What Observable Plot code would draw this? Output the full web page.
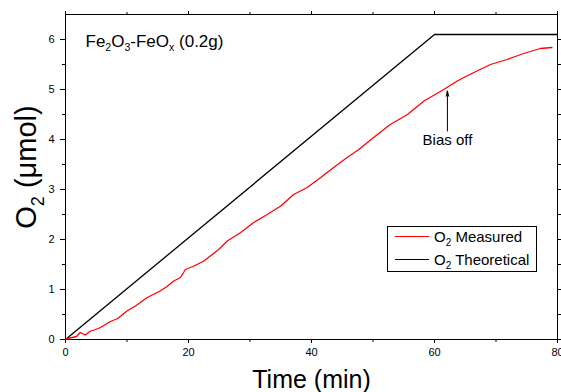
<!DOCTYPE html>
<html>
<head>
<meta charset="utf-8">
<script src="https://cdn.jsdelivr.net/npm/d3@7"></script>
<script src="https://cdn.jsdelivr.net/npm/@observablehq/plot@0.6"></script>
<style>
  body { margin: 0; background: #fff; }
  #wrap { position: relative; width: 561px; height: 392px; font-family: "Liberation Sans", Arial, sans-serif; }
  #legend { position: absolute; left: 387px; top: 226px; width: 148px; height: 44px; border: 1px solid #000; background: #fff; font-size: 15px; color: #000; }
  #legend .sw { position: absolute; left: 7px; width: 34px; height: 0; }
  #legend .lb { position: absolute; left: 46px; white-space: nowrap; line-height: 17px; }
  #legend .sub { font-size: 10px; position: relative; top: 4px; }
</style>
</head>
<body>
<div id="wrap"></div>
<script>
// ---- data ----
const measuredTime = [0, 0.3, 1.1, 1.8, 2.4, 3.2, 4.1, 4.9, 5.7, 6.5, 7.3, 8.5, 10.0, 11.5, 13.3, 15.4, 16.5, 17.6, 18.7, 19.5, 20.9, 22.5, 24.9, 26.3, 28.5, 30.6, 32.8, 35.0, 37.1, 39.3, 41.5, 43.6, 45.8, 47.7, 50.1, 52.8, 55.6, 58.3, 61.5, 63.7, 66.4, 69.1, 71.8, 74.5, 77.2, 79.1];
const measuredO2   = [0, 0.02, 0.04, 0.06, 0.14, 0.09, 0.17, 0.20, 0.24, 0.30, 0.36, 0.42, 0.57, 0.68, 0.84, 0.97, 1.06, 1.17, 1.24, 1.40, 1.47, 1.57, 1.80, 1.97, 2.14, 2.34, 2.50, 2.67, 2.90, 3.04, 3.24, 3.44, 3.64, 3.80, 4.04, 4.30, 4.50, 4.77, 5.00, 5.17, 5.34, 5.50, 5.60, 5.72, 5.82, 5.84];
const theoreticalTime = [0, 60, 80];
const theoreticalO2   = [0, 6.1, 6.1];

const xMajorTicks = [0, 20, 40, 60, 80];
const xMinorTicks = [10, 30, 50, 70];
const yMajorTicks = [0, 1, 2, 3, 4, 5, 6];
const yMinorTicks = [0.5, 1.5, 2.5, 3.5, 4.5, 5.5];

const titleText = "Fe_{2}O_{3}-FeO_{x} (0.2g)";
const xLabel = "Time (min)";
const yLabel = "O_{2} (μmol)";

const annotationText = ["Bias off"];
const annotationX = [62.1];
const annotationTextY = [3.9];
const annotationArrowFrom = [4.17];
const annotationArrowTo = [4.97];

const legendLabels = ["Measured", "Theoretical"];
const legendColors = ["#ff0000", "#000000"];

// ---- tables ----
const measured = measuredTime.map((t, i) => ({t, v: measuredO2[i]}));
const theoretical = theoreticalTime.map((t, i) => ({t, v: theoreticalO2[i]}));
const notes = annotationText.map((s, i) => ({s, x: annotationX[i], y: annotationTextY[i], y1: annotationArrowFrom[i], y2: annotationArrowTo[i]}));

const font = "'Liberation Sans', Arial, sans-serif";

const chart = Plot.plot({
  width: 561,
  height: 392,
  marginLeft: 65,
  marginRight: 4,
  marginTop: 14,
  marginBottom: 53,
  style: {fontFamily: font, fontSize: "11px", background: "#fff", color: "#000", overflow: "visible"},
  x: {domain: [0, 80]},
  y: {domain: [0, 6.5]},
  marks: [
    Plot.axisX({ticks: xMajorTicks, tickSize: 4, tickPadding: 5, tickFormat: "d", label: null, fontSize: 11}),
    Plot.axisX({ticks: xMinorTicks, tickSize: 3, fill: "none", label: null}),
    Plot.axisX({anchor: "top", ticks: xMajorTicks, tickSize: 4, fill: "none", label: null}),
    Plot.axisX({anchor: "top", ticks: xMinorTicks, tickSize: 3, fill: "none", label: null}),
    Plot.axisY({ticks: yMajorTicks, tickSize: 5, tickPadding: 6, tickFormat: "d", label: null, fontSize: 11}),
    Plot.axisY({ticks: yMinorTicks, tickSize: 3, fill: "none", label: null}),
    Plot.axisY({anchor: "right", ticks: yMajorTicks, tickSize: 5, fill: "none", label: null}),
    Plot.axisY({anchor: "right", ticks: yMinorTicks, tickSize: 3, fill: "none", label: null}),
    Plot.frame({stroke: "#000"}),
    Plot.line(theoretical, {x: "t", y: "v", stroke: "#000", strokeWidth: 1.3}),
    Plot.line(measured, {x: "t", y: "v", stroke: "#ff0000", strokeWidth: 1.3}),
    Plot.arrow(notes, {x1: "x", x2: "x", y1: "y1", y2: "y2", stroke: "#000", strokeWidth: 1, headLength: 8, headAngle: 28, bend: 0}),
    Plot.text(notes, {x: "x", y: "y", text: "s", fontSize: 15, fill: "#000", lineAnchor: "bottom"}),
    Plot.text([titleText], {frameAnchor: "top-left", dx: 20, dy: 32, textAnchor: "start", lineAnchor: "bottom", fontSize: 17, fill: "#000"}),
    Plot.text([xLabel], {frameAnchor: "bottom", dy: 48, textAnchor: "middle", lineAnchor: "bottom", fontSize: 25, fill: "#000"}),
    Plot.text([yLabel], {frameAnchor: "left", dx: -30, dy: -10, rotate: -90, textAnchor: "middle", lineAnchor: "bottom", fontSize: 29, fill: "#000"})
  ]
});

const wrap = document.getElementById("wrap");
wrap.appendChild(chart);

// turn _{..} into subscripts
chart.querySelectorAll("text").forEach(el => {
  const s = el.textContent;
  if (!s.includes("_{")) return;
  const fs = parseFloat(getComputedStyle(el).fontSize);
  const shift = fs * 0.28;
  const parts = s.split(/(_\{[^}]*\})/).filter(p => p);
  el.textContent = "";
  let down = false;
  for (const p of parts) {
    const ts = document.createElementNS("http://www.w3.org/2000/svg", "tspan");
    const m = p.match(/^_\{(.*)\}$/);
    if (m) {
      ts.textContent = m[1];
      ts.setAttribute("font-size", (fs * 0.62) + "px");
      if (!down) { ts.setAttribute("dy", shift); down = true; }
    } else {
      ts.textContent = p;
      if (down) { ts.setAttribute("dy", -shift); down = false; }
    }
    el.appendChild(ts);
  }
});

// legend
const legend = document.createElement("div");
legend.id = "legend";
legendLabels.forEach((lab, i) => {
  const sw = document.createElement("div");
  sw.className = "sw";
  sw.style.top = (9 + i * 23) + "px";
  sw.style.borderTop = "1.3px solid " + legendColors[i];
  legend.appendChild(sw);
  const lb = document.createElement("div");
  lb.className = "lb";
  lb.style.top = (1 + i * 23) + "px";
  lb.innerHTML = 'O<span class="sub">2</span> ' + lab;
  legend.appendChild(lb);
});
wrap.appendChild(legend);
</script>
</body>
</html>
